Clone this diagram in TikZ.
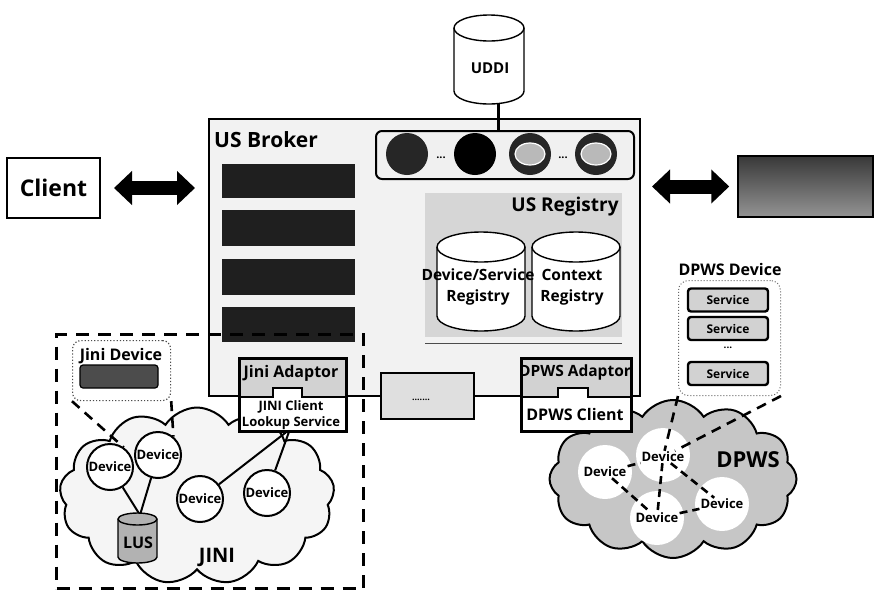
\documentclass[tikz,border=0pt]{standalone}
\usepackage{fontspec}
\setmainfont{Open Sans}
\usetikzlibrary{shapes.symbols,arrows.meta}

\newcommand\tfont[2]{\fontsize{#1}{#2}\selectfont\bfseries}
% drum: name, centre x, top y, bottom y, half width, rim radius, fill
\newcommand\drum[7]{%
  \path[draw=black,line width=1.4pt,fill=#7]
    (#2-#5,#3+#6) -- (#2-#5,#4-#6)
    arc[start angle=180,end angle=360,x radius=#5pt,y radius=#6pt]
    -- (#2+#5,#3+#6)
    arc[start angle=0,end angle=180,x radius=#5pt,y radius=#6pt] -- cycle;
  \draw[line width=1.4pt] (#2-#5,#3+#6)
    arc[start angle=180,end angle=360,x radius=#5pt,y radius=#6pt];
  \coordinate (#1) at (#2,{(#3+#4)/2});
}

\tikzset{
  lbl/.style={inner sep=0pt,font=\tfont{#1}{#1}},
  bar/.style={fill=black!88,minimum width=133pt,inner sep=0pt,anchor=north west},
  fat/.style={line width=14pt,{Triangle[length=18pt,width=33pt]}-{Triangle[length=18pt,width=33pt]}},
  jdev/.style={circle,draw,line width=2pt,fill=white,minimum size=46pt,inner sep=0pt,font=\tfont{13}{13}},
  blob/.style={circle,fill=white,minimum size=54pt,inner sep=0pt},
  dtxt/.style={inner sep=1pt,font=\tfont{13}{13}},
  ddash/.style={line width=2.6pt,dash pattern=on 8pt off 5pt},
  calldash/.style={line width=2.6pt,dash pattern=on 10pt off 7pt},
  svcbox/.style={draw,line width=2.4pt,rounded corners=3pt,fill=gray!35,minimum width=80pt,minimum height=23pt,inner sep=0pt,font=\tfont{12}{12}},
  link/.style={line width=2pt},
  ring/.style={circle,fill=black!85,minimum size=42pt,inner sep=0pt},
  adapt/.style={draw,line width=2.5pt,inner sep=0pt,anchor=north west},
}

\begin{document}
\begin{tikzpicture}[x=1pt,y=-1pt]
\useasboundingbox (0,0) rectangle (880,595);

% ---------- network clouds ----------
\node[cloud,cloud puffs=13,cloud puff arc=115,aspect=1.55,draw,line width=2pt,
      fill=gray!8,minimum width=275pt,minimum height=177pt,inner sep=0pt] (jcloud) at (197,496) {};
\node[cloud,cloud puffs=12,cloud puff arc=115,aspect=1.55,draw,line width=2pt,
      fill=gray!45,minimum width=247pt,minimum height=158pt,inner sep=0pt] (dcloud) at (673,479) {};

% ---------- DPWS network ----------
\node[blob] (b1) at (605,472) {};
\node[blob] (b2) at (663,455) {};
\node[blob] (b3) at (657,518) {};
\node[blob] (b4) at (722,504) {};
\node[dtxt] (dd1) at (605,472) {Device};
\node[dtxt] (dd2) at (663,457) {Device};
\node[dtxt] (dd3) at (657,518) {Device};
\node[dtxt] (dd4) at (722,504) {Device};
\draw[ddash] (dd1) -- (dd2);
\draw[ddash] (dd1) -- (dd3);
\draw[ddash] (dd2) -- (dd3);
\draw[ddash] (dd2) -- (dd4);
\draw[ddash] (dd3) -- (dd4);
\node[lbl=22] (dpwstxt) at (748,460) {DPWS};

% ---------- Jini network ----------
\node[jdev] (jd1) at (110,467) {Device};
\node[jdev] (jd2) at (158,455) {Device};
\node[jdev] (jd3) at (200,499) {Device};
\node[jdev] (jd4) at (267,493) {Device};
\coordinate (lustop) at (140,515);
\draw[link] (jd1) -- (lustop);
\draw[link] (jd2) -- (lustop);
\drum{lus}{137.5}{513}{563}{19.5}{6}{gray!60}
\node[lbl=16] (lustxt) at (138,543) {LUS};
\node[lbl=20] (jinitxt) at (217,557) {JINI};

% ---------- US Broker ----------
\node[draw,line width=2pt,fill=gray!10,minimum width=431pt,minimum height=277pt,
      inner sep=0pt,anchor=north west] (broker) at (208,118) {};
\node[lbl=21] (brokertitle) at (266,140) {US Broker};
\node[bar,minimum height=34pt] (bar1) at (222,164) {};
\node[bar,minimum height=36pt] (bar2) at (222,210) {};
\node[bar,minimum height=36pt] (bar3) at (222,259) {};
\node[bar,minimum height=35pt] (bar4) at (222,307) {};

% service strip
\node[draw,rounded corners=6pt,line width=2pt,fill=gray!12,minimum width=258pt,
      minimum height=48pt,inner sep=0pt,anchor=north west] (strip) at (375,130) {};
\node[ring] (sv1) at (407,154) {};
\node[ring,fill=black] (sv2) at (475,154) {};
\node[ring] (sv3) at (530,154) {};
\node[ring] (sv4) at (596,154) {};
\draw[white,line width=1.2pt,fill=gray!55] (sv3.center) ellipse [x radius=15pt,y radius=11pt];
\draw[white,line width=1.2pt,fill=gray!55] (sv4.center) ellipse [x radius=15pt,y radius=11pt];
\node[lbl=11] (sdots1) at (441,158) {...};
\node[lbl=11] (sdots2) at (563,158) {...};

% registry
\node[fill=gray!32,minimum width=197pt,minimum height=144pt,inner sep=0pt,
      anchor=north west] (reg) at (425,193) {};
\draw[line width=1.2pt,black!70] ([yshift=-6pt]reg.south west) -- ([yshift=-6pt]reg.south east);
\node[lbl=19] (regtitle) at (565,207) {US Registry};
\drum{cyl1}{481}{232}{331}{44}{15}{white}
\drum{cyl2}{576}{232}{331}{44}{15}{white}
\node[align=center,inner sep=0pt,font=\tfont{15.5}{21}] (dsreg) at (478,287) {Device/Service\\Registry};
\node[align=center,inner sep=0pt,font=\tfont{15.5}{21}] (ctxreg) at (572,287) {Context\\Registry};

% Jini adaptor
\fill[white] (238,357) rectangle (345,430);
\fill[gray!35] (238,357) -- (345,357) -- (345,397) -- (302,397) -- (302,388)
  -- (273,388) -- (273,397) -- (238,397) -- cycle;
\draw[line width=2pt] (238,397) -- (273,397) -- (273,388) -- (302,388) -- (302,397) -- (345,397);
\node[adapt,minimum width=107pt,minimum height=73pt] (jad) at (238,357) {};
\node[lbl=16] (jadtxt) at (291,373) {Jini Adaptor};
\node[align=center,inner sep=0pt,font=\tfont{13}{15.5}] (jclient) at (291,415) {JINI Client\\Lookup Service};

% middle box
\node[draw,line width=2pt,fill=gray!25,minimum width=93pt,minimum height=46pt,
      inner sep=0pt,anchor=north west] (mid) at (380,372) {};
\node[lbl=9] (middots) at (421,400) {.......};

% DPWS adaptor
\fill[white] (520,357) rectangle (630,430);
\fill[gray!35] (520,357) -- (630,357) -- (630,397) -- (588,397) -- (588,388)
  -- (558,388) -- (558,397) -- (520,397) -- cycle;
\draw[line width=2pt] (520,397) -- (558,397) -- (558,388) -- (588,388) -- (588,397) -- (630,397);
\node[adapt,minimum width=110pt,minimum height=73pt] (dad) at (520,357) {};
\node[lbl=15.5] (dadtxt) at (575,372) {DPWS Adaptor};
\node[lbl=16] (dclient) at (575,414) {DPWS Client};

% links from the Jini lookup service
\draw[link] ([xshift=-7pt]jad.south) -- (jd3);
\draw[link] ([xshift=-4pt]jad.south) -- (jd4);

% Jini zone
\node[draw,line width=3pt,dash pattern=on 13pt off 9pt,minimum width=307pt,
      minimum height=254pt,inner sep=0pt,anchor=north west] (jzone) at (55,333) {};

% Jini device callout
\node[draw=black!70,dotted,line width=1.2pt,rounded corners=8pt,fill=white,
      minimum width=98pt,minimum height=60pt,inner sep=0pt,anchor=north west] (jcall) at (72,340) {};
\node[lbl=16] (jcalltitle) at (121,356) {Jini Device};
\node[draw,line width=1.2pt,fill=black!70,rounded corners=3pt,minimum width=78pt,
      minimum height=23pt,inner sep=0pt] (jchip) at (119,376.5) {};
\draw[calldash] (jcall.south west) -- (jd1.55);
\draw[calldash] (jcall.south east) -- (jd2.50);

% DPWS device callout
\node[lbl=16] (dcalltitle) at (730,269) {DPWS Device};
\node[draw=black!60,dotted,line width=1pt,rounded corners=10pt,minimum width=102pt,
      minimum height=115pt,inner sep=0pt,anchor=north west] (dcall) at (678,280) {};
\node[svcbox] (svc1) at (728,300) {Service};
\node[svcbox] (svc2) at (728,328.5) {Service};
\node[lbl=10] (svcdots) at (728,348) {...};
\node[svcbox] (svc3) at (728,373.5) {Service};
\draw[calldash] (dcall.south west) -- (dd2);
\draw[calldash] (dcall.south east) -- (dd2);

% client and gateway
\node[draw,line width=2pt,minimum width=93pt,minimum height=60pt,inner sep=0pt,
      font=\tfont{23}{23}] (client) at (53.5,188) {Client};
\node[draw,line width=1.5pt,top color=black!78,bottom color=black!42,minimum width=135pt,
      minimum height=61pt,inner sep=0pt] (gw) at (805.5,186.5) {};
\draw[fat,shorten <=13pt,shorten >=13pt] (client.east) -- (client.east -| broker.west);
\draw[fat,shorten <=11pt,shorten >=8pt] (gw.west -| broker.east) -- (gw.west);

% UDDI
\drum{uddi}{489}{15}{104}{35}{13}{white}
\node[lbl=15] (uddilbl) at (490,68) {UDDI};
\coordinate (uddibase) at (498,103);
\draw[line width=3pt] (uddibase) -- (uddibase |- strip.north);
\end{tikzpicture}
\end{document}
